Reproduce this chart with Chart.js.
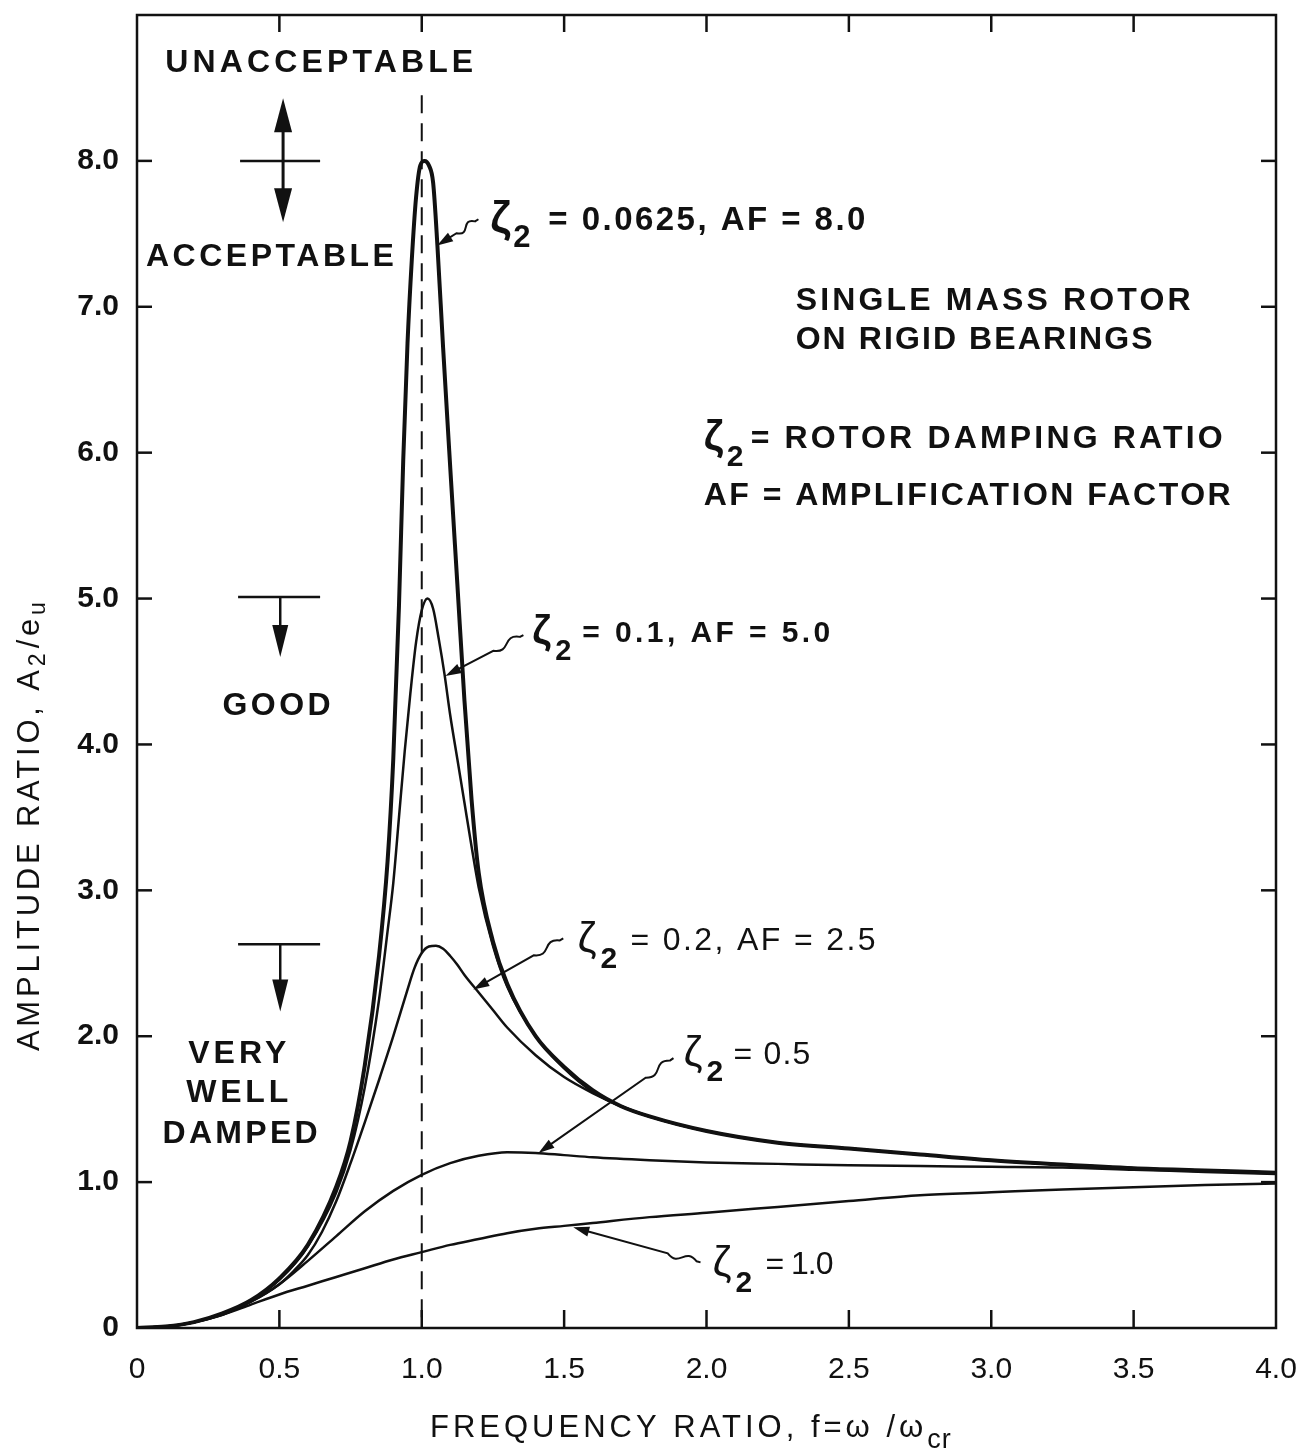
<!DOCTYPE html>
<html>
<head>
<meta charset="utf-8">
<script src="https://cdn.jsdelivr.net/npm/chart.js@4.4.1/dist/chart.umd.min.js"></script>
<style>
  html, body { margin: 0; padding: 0; background: #fff; }
  canvas { display: block; }
</style>
</head>
<body>
<canvas id="chart" width="1301" height="1453"></canvas>
<script>
// --- values: frequency ratio f and amplitude ratio A2/eu per damping curve ---
const zeta0625F = [0, 0.1, 0.2, 0.3, 0.4, 0.5, 0.6, 0.7, 0.75, 0.8, 0.85, 0.88, 0.9, 0.92, 0.935, 0.95, 0.965, 0.98, 0.995, 1.01, 1.025, 1.04, 1.055, 1.075, 1.1, 1.125, 1.15, 1.175, 1.2, 1.25, 1.3, 1.4, 1.5, 1.6, 1.7, 1.8, 2.0, 2.25, 2.5, 2.75, 3.0, 3.25, 3.5, 3.75, 4.0];
const zeta0625A = [0, 0.01, 0.04, 0.10, 0.19, 0.34, 0.57, 0.97, 1.28, 1.80, 2.55, 3.20, 3.90, 4.95, 5.95, 6.75, 7.32, 7.75, 7.97, 8.0, 7.97, 7.85, 7.42, 6.72, 5.9, 5.1, 4.3, 3.62, 3.12, 2.65, 2.36, 2.0, 1.79, 1.63, 1.52, 1.45, 1.35, 1.27, 1.23, 1.19, 1.15, 1.12, 1.095, 1.08, 1.065];

const zeta01F = [0, 0.1, 0.2, 0.3, 0.4, 0.5, 0.6, 0.7, 0.75, 0.8, 0.85, 0.88, 0.9, 0.92, 0.94, 0.96, 0.98, 1.0, 1.02, 1.04, 1.06, 1.08, 1.1, 1.125, 1.15, 1.175, 1.2, 1.25, 1.3, 1.4, 1.5, 1.6, 1.7, 1.8, 2.0, 2.25, 2.5, 2.75, 3.0, 3.25, 3.5, 3.75, 4.0];
const zeta01A = [0, 0.01, 0.04, 0.10, 0.19, 0.33, 0.56, 0.93, 1.22, 1.65, 2.25, 2.72, 3.05, 3.5, 3.95, 4.35, 4.7, 4.92, 5.0, 4.93, 4.72, 4.48, 4.2, 3.9, 3.6, 3.3, 3.02, 2.62, 2.34, 2.0, 1.78, 1.62, 1.52, 1.45, 1.35, 1.27, 1.23, 1.19, 1.15, 1.12, 1.095, 1.08, 1.065];

const zeta02F = [0, 0.1, 0.2, 0.3, 0.4, 0.5, 0.55, 0.6, 0.65, 0.7, 0.75, 0.8, 0.85, 0.9, 0.925, 0.95, 0.975, 1.0, 1.025, 1.05, 1.075, 1.1, 1.125, 1.15, 1.2, 1.25, 1.3, 1.4, 1.5, 1.6, 1.7, 1.8, 2.0, 2.25, 2.5, 2.75, 3.0, 3.25, 3.5, 3.75, 4.0];
const zeta02A = [0, 0.01, 0.04, 0.10, 0.18, 0.30, 0.39, 0.50, 0.66, 0.87, 1.13, 1.41, 1.70, 2.00, 2.16, 2.32, 2.47, 2.57, 2.615, 2.62, 2.60, 2.55, 2.49, 2.42, 2.30, 2.18, 2.06, 1.87, 1.72, 1.61, 1.52, 1.45, 1.35, 1.27, 1.23, 1.19, 1.15, 1.12, 1.095, 1.08, 1.065];

const zeta05F = [0, 0.1, 0.2, 0.3, 0.4, 0.5, 0.6, 0.7, 0.8, 0.9, 1.0, 1.1, 1.2, 1.3, 1.4, 1.5, 1.6, 1.8, 2.0, 2.25, 2.5, 2.75, 3.0, 3.25, 3.5, 3.75, 4.0];
const zeta05A = [0, 0.01, 0.04, 0.09, 0.18, 0.30, 0.46, 0.63, 0.80, 0.94, 1.05, 1.13, 1.18, 1.205, 1.20, 1.185, 1.17, 1.15, 1.135, 1.125, 1.115, 1.11, 1.105, 1.10, 1.085, 1.07, 1.055];

const zeta1F = [0, 0.1, 0.2, 0.3, 0.4, 0.5, 0.6, 0.7, 0.8, 0.9, 1.0, 1.1, 1.2, 1.3, 1.4, 1.5, 1.6, 1.8, 2.0, 2.25, 2.5, 2.75, 3.0, 3.25, 3.5, 3.75, 4.0];
const zeta1A = [0, 0.01, 0.04, 0.09, 0.16, 0.23, 0.29, 0.35, 0.41, 0.47, 0.52, 0.57, 0.61, 0.65, 0.68, 0.70, 0.72, 0.76, 0.79, 0.83, 0.87, 0.91, 0.93, 0.95, 0.965, 0.98, 0.99];

const xTickValues = [0, 0.5, 1.0, 1.5, 2.0, 2.5, 3.0, 3.5, 4.0];
const xTickLabels = ['0', '0.5', '1.0', '1.5', '2.0', '2.5', '3.0', '3.5', '4.0'];
const yTickValues = [0, 1, 2, 3, 4, 5, 6, 7, 8];
const yTickLabels = ['0', '1.0', '2.0', '3.0', '4.0', '5.0', '6.0', '7.0', '8.0'];

const FONT = '"Liberation Sans", Arial, Helvetica, sans-serif';
const INK = '#111';

function toPoints(fs, as) {
  return fs.map((f, i) => ({ x: f, y: as[i] }));
}

function curve(fs, as, width) {
  return {
    data: toPoints(fs, as),
    borderColor: INK,
    borderWidth: width,
    pointRadius: 0,
    fill: false,
    cubicInterpolationMode: 'monotone'
  };
}

// text stretched to a given width via letter spacing
function spaced(ctx, text, left, midY, width) {
  ctx.letterSpacing = '0px';
  const w0 = ctx.measureText(text).width;
  const ls = text.length > 1 ? (width - w0) / (text.length - 1) : 0;
  ctx.letterSpacing = ls.toFixed(2) + 'px';
  ctx.textAlign = 'left';
  ctx.textBaseline = 'middle';
  ctx.fillText(text, left, midY);
  ctx.letterSpacing = '0px';
}

function centered(ctx, text, cx, midY, width) {
  spaced(ctx, text, cx - width / 2, midY, width);
}

// "ζ2 = ..." label, zeta with subscript 2
function zetaLabel(ctx, left, midY, rest, restOffset, restWidth, bold, size) {
  const w = bold ? 'bold ' : '';
  ctx.textAlign = 'left';
  ctx.textBaseline = 'middle';
  ctx.font = w + Math.round(size * 1.35) + 'px ' + FONT;
  ctx.fillText('ζ', left, midY - 1);
  ctx.font = 'bold ' + Math.round(size * 0.95) + 'px ' + FONT;
  ctx.fillText('2', left + 23, midY + 18);
  ctx.font = w + size + 'px ' + FONT;
  spaced(ctx, rest, left + restOffset, midY, restWidth);
}

function arrowHead(ctx, tipX, tipY, ux, uy, len, half) {
  const bx = tipX - ux * len, by = tipY - uy * len;
  ctx.beginPath();
  ctx.moveTo(tipX, tipY);
  ctx.lineTo(bx - uy * half, by + ux * half);
  ctx.lineTo(bx + uy * half, by - ux * half);
  ctx.closePath();
  ctx.fill();
}

// leader from a label to its curve: short squiggle near the label, arrow on the curve
function leader(ctx, tail, tip) {
  const dx = tip.x - tail.x, dy = tip.y - tail.y;
  const len = Math.hypot(dx, dy);
  const ux = dx / len, uy = dy / len;
  const nx = -uy, ny = ux;
  const at = (d, off) => ({ x: tail.x + ux * d + nx * off, y: tail.y + uy * d + ny * off });
  const span = Math.min(30, len * 0.45);
  const a = at(4, 0), c1 = at(4 + span * 0.5, 11), c2 = at(4 + span * 0.5, -11), b = at(4 + span, 0);
  ctx.lineWidth = 2;
  ctx.beginPath();
  ctx.moveTo(tail.x, tail.y);
  ctx.lineTo(a.x, a.y);
  ctx.bezierCurveTo(c1.x, c1.y, c2.x, c2.y, b.x, b.y);
  ctx.lineTo(tip.x - ux * 10, tip.y - uy * 10);
  ctx.stroke();
  arrowHead(ctx, tip.x, tip.y, ux, uy, 16, 5);
}

const annotate = {
  id: 'annotate',
  afterDraw(chart) {
    const { ctx, chartArea: a, scales: { x, y } } = chart;
    const X = v => x.getPixelForValue(v);
    const Y = v => y.getPixelForValue(v);
    const P = (f, amp) => ({ x: X(f), y: Y(amp) });
    const seg = (x1, y1, x2, y2) => { ctx.beginPath(); ctx.moveTo(x1, y1); ctx.lineTo(x2, y2); ctx.stroke(); };

    ctx.save();
    ctx.strokeStyle = INK;
    ctx.fillStyle = INK;
    ctx.lineCap = 'butt';

    // frame and inward ticks
    ctx.lineWidth = 2.5;
    ctx.strokeRect(a.left, a.top, a.right - a.left, a.bottom - a.top);
    xTickValues.slice(1, -1).forEach(v => {
      seg(X(v), a.bottom, X(v), a.bottom - 18);
      seg(X(v), a.top, X(v), a.top + 17);
    });
    yTickValues.slice(1).forEach(v => {
      seg(a.left, Y(v), a.left + 15, Y(v));
      seg(a.right, Y(v), a.right - 15, Y(v));
    });

    // resonance line f = 1.0
    ctx.lineWidth = 2;
    ctx.setLineDash([18, 10]);
    seg(X(1.0), Y(8.45), X(1.0), a.bottom);
    ctx.setLineDash([]);

    // acceptance limits on the left
    ctx.lineWidth = 2.5;
    seg(X(0.362), Y(8.0), X(0.643), Y(8.0));
    ctx.lineWidth = 3;
    seg(X(0.513), Y(8.43) + 20, X(0.513), Y(7.58) - 20);
    arrowHead(ctx, X(0.513), Y(8.43), 0, -1, 34, 9);
    arrowHead(ctx, X(0.513), Y(7.58), 0, 1, 34, 9);

    [5.01, 2.63].forEach((lvl, i) => {
      const end = i === 0 ? 4.6 : 2.17;
      ctx.lineWidth = 2.5;
      seg(X(0.355), Y(lvl), X(0.643), Y(lvl));
      seg(X(0.503), Y(lvl), X(0.503), Y(end) - 20);
      arrowHead(ctx, X(0.503), Y(end), 0, 1, 32, 8);
    });

    ctx.font = 'bold 32px ' + FONT;
    centered(ctx, 'UNACCEPTABLE', X(0.64), Y(8.67), 308);
    centered(ctx, 'ACCEPTABLE', X(0.467), Y(7.34), 248);
    centered(ctx, 'GOOD', X(0.49), Y(4.26), 108);
    centered(ctx, 'VERY', X(0.352), Y(1.88), 98);
    centered(ctx, 'WELL', X(0.352), Y(1.61), 102);
    centered(ctx, 'DAMPED', X(0.362), Y(1.33), 155);

    // description block
    spaced(ctx, 'SINGLE MASS ROTOR', X(2.313), Y(7.04), 395);
    spaced(ctx, 'ON RIGID BEARINGS', X(2.313), Y(6.77), 357);
    zetaLabel(ctx, X(1.99), Y(6.09), '= ROTOR DAMPING RATIO', 47, 472, true, 32);
    ctx.font = 'bold 32px ' + FONT;
    spaced(ctx, 'AF = AMPLIFICATION FACTOR', X(1.99), Y(5.70), 527);

    // curve labels with leaders
    zetaLabel(ctx, X(1.241), Y(7.59), '= 0.0625, AF = 8.0', 58, 317, true, 33);
    leader(ctx, P(1.199, 7.60), P(1.054, 7.42));

    zetaLabel(ctx, X(1.388), Y(4.76), '= 0.1, AF = 5.0', 50, 248, true, 30);
    leader(ctx, P(1.357, 4.75), P(1.083, 4.47));

    zetaLabel(ctx, X(1.547), Y(2.65), '= 0.2, AF = 2.5', 53, 245, false, 32);
    leader(ctx, P(1.497, 2.67), P(1.181, 2.32));

    zetaLabel(ctx, X(1.919), Y(1.87), '= 0.5', 50, 77, false, 32);
    leader(ctx, P(1.884, 1.85), P(1.41, 1.20));

    zetaLabel(ctx, X(2.021), Y(0.43), '= 1.0', 53, 68, false, 32);
    leader(ctx, P(1.979, 0.45), P(1.532, 0.69));

    // axis titles
    ctx.font = '31px ' + FONT;
    ctx.letterSpacing = '4px';
    ctx.textAlign = 'left';
    ctx.textBaseline = 'middle';
    const xt = 'FREQUENCY RATIO, f=ω /ω';
    const xw = ctx.measureText(xt).width;
    const xLeft = 430;
    ctx.fillText(xt, xLeft, 1428);
    ctx.font = '27px ' + FONT;
    ctx.letterSpacing = '1px';
    ctx.fillText('cr', xLeft + xw, 1441);

    ctx.translate(30, 825);
    ctx.rotate(-Math.PI / 2);
    ctx.font = '31px ' + FONT;
    ctx.letterSpacing = '3.8px';
    const y1 = 'AMPLITUDE RATIO, A', y2 = '/e';
    const w1 = ctx.measureText(y1).width;
    const w2 = ctx.measureText(y2).width;
    const total = w1 + 18 + w2 + 16;
    const cx = -total / 2;
    ctx.fillText(y1, cx, 0);
    ctx.font = '23px ' + FONT;
    ctx.fillText('2', cx + w1, 9);
    ctx.font = '31px ' + FONT;
    ctx.fillText(y2, cx + w1 + 18, 0);
    ctx.font = '23px ' + FONT;
    ctx.fillText('u', cx + w1 + 18 + w2, 9);
    ctx.restore();
  }
};

new Chart(document.getElementById('chart'), {
  type: 'line',
  data: {
    datasets: [
      curve(zeta0625F, zeta0625A, 4),
      curve(zeta01F, zeta01A, 2.5),
      curve(zeta02F, zeta02A, 2.5),
      curve(zeta05F, zeta05A, 2.5),
      curve(zeta1F, zeta1A, 2.5)
    ]
  },
  options: {
    responsive: false,
    animation: false,
    layout: { padding: { top: 15, right: 25, left: 0, bottom: 0 } },
    plugins: {
      legend: { display: false },
      tooltip: { enabled: false }
    },
    scales: {
      x: {
        type: 'linear',
        min: 0,
        max: 4,
        afterBuildTicks: s => { s.ticks = xTickValues.map(v => ({ value: v })); },
        // fixed axis band, no extra overhang for the end labels
        afterFit: s => { s.height = 125; s.paddingLeft = 0; s.paddingRight = 0; },
        ticks: {
          padding: 24,
          color: INK,
          maxRotation: 0,
          autoSkip: false,
          font: { family: FONT, size: 30 },
          callback: (v) => xTickLabels[xTickValues.indexOf(v)]
        },
        grid: { display: false, drawTicks: false },
        border: { display: false }
      },
      y: {
        type: 'linear',
        min: 0,
        max: 9,
        afterBuildTicks: s => { s.ticks = yTickValues.map(v => ({ value: v })); },
        afterFit: s => { s.width = 137; s.paddingTop = 0; s.paddingBottom = 0; },
        ticks: {
          padding: 18,
          color: INK,
          autoSkip: false,
          font: { family: FONT, size: 30, weight: 'bold' },
          callback: (v) => yTickLabels[yTickValues.indexOf(v)]
        },
        grid: { display: false, drawTicks: false },
        border: { display: false }
      }
    }
  },
  plugins: [annotate]
});
</script>
</body>
</html>
